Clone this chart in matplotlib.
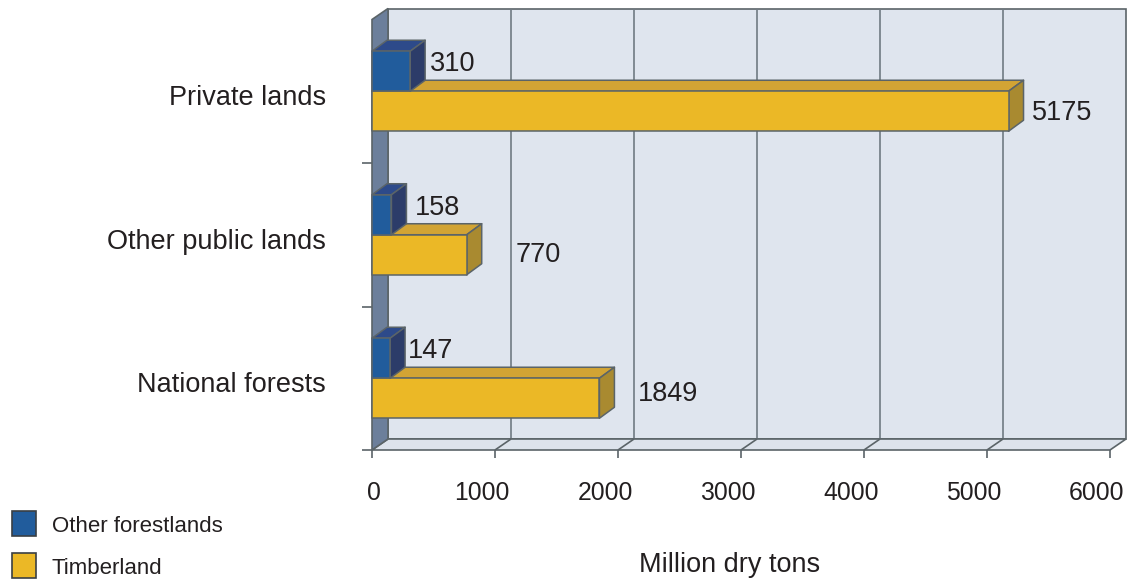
import matplotlib

matplotlib.use("Agg")
import matplotlib.pyplot as plt
from matplotlib import transforms
from matplotlib.patches import Polygon, Rectangle

categories = ["Private lands", "Other public lands", "National forests"]
other_forestlands = [310, 158, 147]
timberland = [5175, 770, 1849]
x_ticks = [0, 1000, 2000, 3000, 4000, 5000, 6000]
series_names = ["Other forestlands", "Timberland"]
x_label = "Million dry tons"

plt.rcParams["font.family"] = ["Liberation Sans", "DejaVu Sans"]

# colours: front, top, side
BLUE = ("#215c9c", "#2d4a8a", "#2c3c69")
GOLD = ("#ebb826", "#d2a434", "#a98a30")
EDGE = "#5b6468"
GRID = "#707b82"
BACK = "#dfe5ee"
FLOOR = "#dde3ec"
SIDE_WALL = "#6c7f9b"
TEXT = "#231f20"
TY = -3  # text nudge so caps sit on the centre line

W, H = 1127, 579
fig = plt.figure(figsize=(W / 100, H / 100), dpi=100)
ax = fig.add_axes([372 / W, 129 / H, 738 / W, 430.5 / H])
xmax = x_ticks[-1]
ymax = len(categories)
ax.set_xlim(0, xmax)
ax.set_ylim(0, ymax)
ax.axis("off")

px_x = lambda p: p * xmax / 738.0
px_y = lambda p: p * ymax / 430.5

WDX, WDY = px_x(16), px_y(11)
BDX, BDY = px_x(15), px_y(11)
BAR_H = px_y(40)


def add(patch, z):
    patch.set_clip_on(False)
    patch.set_zorder(z)
    ax.add_patch(patch)


def line(xs, ys, z, color=EDGE, lw=1.2):
    ax.plot(xs, ys, color=color, lw=lw, zorder=z, clip_on=False,
            solid_capstyle="butt")


# back wall, floor and side wall
add(Rectangle((WDX, WDY), xmax, ymax, fc=BACK, ec=EDGE, lw=1.2), 1)
for v in x_ticks[1:-1]:
    line([v + WDX, v + WDX], [WDY, ymax + WDY], 2, color=GRID)
add(Polygon([(0, 0), (xmax, 0), (xmax + WDX, WDY), (WDX, WDY)],
            fc=FLOOR, ec=EDGE, lw=1.2), 3)
for v in x_ticks[1:-1]:
    line([v, v + WDX], [0, WDY], 4)
add(Polygon([(0, 0), (WDX, WDY), (WDX, ymax + WDY), (0, ymax)],
            fc=SIDE_WALL, ec=EDGE, lw=1.2), 5)

# ticks
for v in x_ticks:
    line([v, v], [0, -px_y(8)], 4)
for i in range(ymax):
    line([0, -px_x(10)], [i, i], 4)


def bar3d(y0, value, colors, z):
    front, top, side = colors
    kw = dict(ec=EDGE, lw=1.1, joinstyle="round")
    add(Polygon([(0, y0 + BAR_H), (value, y0 + BAR_H),
                 (value + BDX, y0 + BAR_H + BDY), (BDX, y0 + BAR_H + BDY)],
                fc=top, **kw), z)
    add(Polygon([(value, y0), (value + BDX, y0 + BDY),
                 (value + BDX, y0 + BAR_H + BDY), (value, y0 + BAR_H)],
                fc=side, **kw), z)
    add(Rectangle((0, y0), value, BAR_H, fc=front, **kw), z + 0.1)


def offset(dx, dy):
    return transforms.offset_copy(ax.transData, fig=fig, x=dx, y=dy + TY,
                                  units="dots")


# label nudges in pixels (x from bar end, y from group centre)
blue_dx = [20, 23, 18]
gold_dx = [23, 49, 38]
gold_dy = [-19, -17, -13]

for i, cat in enumerate(categories):
    c = ymax - 0.5 - i
    bar3d(c - BAR_H, timberland[i], GOLD, 10 + i * 2)
    bar3d(c, other_forestlands[i], BLUE, 11 + i * 2)
    ax.text(other_forestlands[i], c, f"{other_forestlands[i]}", fontsize=19.5,
            color=TEXT, ha="left", va="center",
            transform=offset(blue_dx[i], 30))
    ax.text(timberland[i], c, f"{timberland[i]}", fontsize=19.5,
            color=TEXT, ha="left", va="center",
            transform=offset(gold_dx[i], gold_dy[i]))
    ax.text(0, c, cat, fontsize=19.5, color=TEXT, ha="right", va="center",
            transform=offset(-46, -4))

for v in x_ticks:
    ax.text(v, 0, f"{v}", fontsize=17.8, color=TEXT, ha="center", va="center",
            transform=offset(2 if v == 0 else -13, -40))

fig.text(730 / W, 1 - 565 / H, x_label, fontsize=19.5, color=TEXT,
         ha="center", va="center")

# legend
for j, (name, colors) in enumerate(zip(series_names, [BLUE, GOLD])):
    yc = 523 + j * 42
    fig.add_artist(Rectangle((12 / W, 1 - (yc + 12.5) / H), 24 / W, 25 / H,
                             transform=fig.transFigure, fc=colors[0],
                             ec="#3a3f44", lw=1.2))
    fig.text(52 / W, 1 - (yc - TY) / H, name, fontsize=16, color=TEXT,
             ha="left", va="center")

fig.savefig("out.png", dpi=100)
